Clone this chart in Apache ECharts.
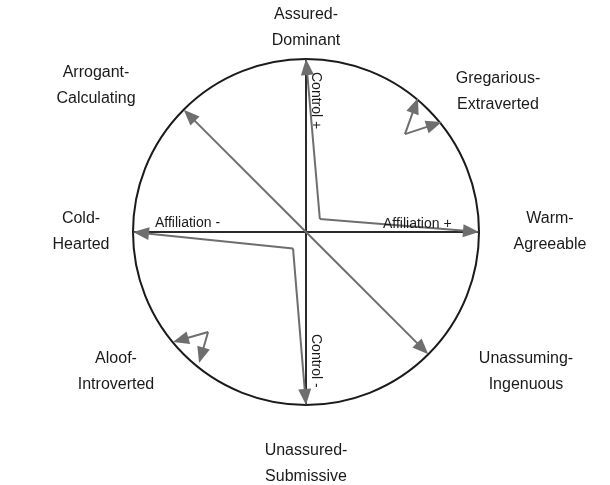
<!DOCTYPE html>
<html>
<head>
<meta charset="utf-8">
<script src="https://cdn.jsdelivr.net/npm/echarts@6/dist/echarts.min.js"></script>
<style>
html,body{margin:0;padding:0;background:#fff;}
#c{width:610px;height:485px;}
</style>
</head>
<body>
<div id="c"></div>
<script>
// Circle (center x, center y, radius) in unit space
const circleData = [[0, 0, 1]];
// Main axes (start, end)
const axisStarts = [[-1, 0], [0, -1]];
const axisEnds = [[1, 0], [0, 1]];
// Arrow segments: origin -> tip
const arrowFrom = [
  [0, 0], [0, 0],
  [0.08, 0.075], [0.08, 0.075],
  [-0.075, -0.095], [-0.075, -0.095],
  [0.572, 0.566], [0.572, 0.566],
  [-0.566, -0.578], [-0.566, -0.578]
];
const arrowTo = [
  [-0.707, 0.707], [0.707, -0.707],
  [1, 0], [0, 1],
  [-1, 0], [0, -1],
  [0.647, 0.775], [0.785, 0.636],
  [-0.769, -0.636], [-0.618, -0.757]
];
// Octant labels
const octantLabels = [
  'Assured-\nDominant', 'Gregarious-\nExtraverted', 'Warm-\nAgreeable', 'Unassuming-\nIngenuous',
  'Unassured-\nSubmissive', 'Aloof-\nIntroverted', 'Cold-\nHearted', 'Arrogant-\nCalculating'
];
const axisLabels = ['Affiliation -', 'Affiliation +', 'Control +', 'Control -'];

const chart = echarts.init(document.getElementById('c'), null, {renderer: 'canvas'});

const labelPos = [[306, 28], [498, 92], [550, 232], [526, 372], [306, 464], [116, 372], [81, 232], [96, 86]];
const axisLabelPos = [[155, 223, 0, 'left'], [383, 224, 0, 'left'], [316, 72, -Math.PI / 2, 'left'], [316, 334, -Math.PI / 2, 'left']];

const graphics = [];
octantLabels.forEach((t, i) => {
  graphics.push({
    type: 'text', x: labelPos[i][0], y: labelPos[i][1], silent: true,
    style: {text: t, font: '16px "Liberation Sans", Arial, sans-serif', fill: '#1a1a1a', align: 'center', verticalAlign: 'middle', lineHeight: 26}
  });
});
axisLabels.forEach((t, i) => {
  const p = axisLabelPos[i];
  graphics.push({
    type: 'text', x: p[0], y: p[1], rotation: p[2], silent: true, z: 100,
    style: {text: t, font: '14px "Liberation Sans", Arial, sans-serif', fill: '#1a1a1a', align: p[3], verticalAlign: 'middle'}
  });
});

const HEAD_LEN = 16, HEAD_W = 13, ARROW_COLOR = '#6e6e6e';

chart.setOption({
  animation: false,
  backgroundColor: '#fff',
  grid: {left: 133, top: 59, width: 346, height: 346},
  xAxis: {type: 'value', min: -1, max: 1, show: false},
  yAxis: {type: 'value', min: -1, max: 1, show: false},
  graphic: graphics,
  series: [
    {
      type: 'custom',
      data: circleData,
      z: 1,
      renderItem: function (params, api) {
        const c = api.coord([api.value(0), api.value(1)]);
        const s = api.size([api.value(2), api.value(2)]);
        return {type: 'circle', shape: {cx: c[0], cy: c[1], r: s[0]}, style: {fill: 'none', stroke: '#1a1a1a', lineWidth: 2}};
      }
    },
    {
      type: 'lines',
      coordinateSystem: 'cartesian2d',
      z: 2,
      symbol: ['none', 'none'],
      lineStyle: {color: '#2a2a2a', width: 2, opacity: 1},
      data: axisStarts.map((s, i) => ({coords: [s, axisEnds[i]]}))
    },
    {
      type: 'custom',
      z: 3,
      data: arrowFrom.map((s, i) => [s[0], s[1], arrowTo[i][0], arrowTo[i][1]]),
      renderItem: function (params, api) {
        const a = api.coord([api.value(0), api.value(1)]);
        const b = api.coord([api.value(2), api.value(3)]);
        const dx = b[0] - a[0], dy = b[1] - a[1];
        const len = Math.sqrt(dx * dx + dy * dy);
        const ux = dx / len, uy = dy / len;
        const bx = b[0] - ux * HEAD_LEN, by = b[1] - uy * HEAD_LEN;
        const px = -uy * HEAD_W / 2, py = ux * HEAD_W / 2;
        return {
          type: 'group',
          children: [
            {type: 'line', shape: {x1: a[0], y1: a[1], x2: b[0] - ux * (HEAD_LEN - 2), y2: b[1] - uy * (HEAD_LEN - 2)},
              style: {stroke: ARROW_COLOR, lineWidth: 2}},
            {type: 'polygon', shape: {points: [[b[0], b[1]], [bx + px, by + py], [bx - px, by - py]]},
              style: {fill: ARROW_COLOR}}
          ]
        };
      }
    }
  ]
});
</script>
</body>
</html>
